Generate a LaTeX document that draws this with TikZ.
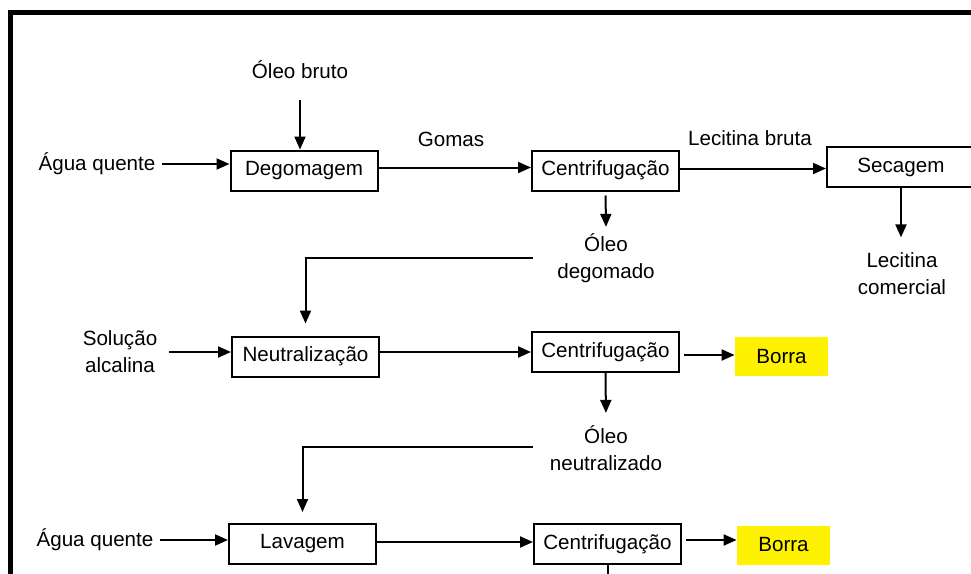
\documentclass[tikz,border=0pt]{standalone}
\usepackage{fontspec}
\setmainfont{Liberation Sans}
\usetikzlibrary{arrows.meta}

\begin{document}
\begin{tikzpicture}[x=0.5pt,y=-0.5pt]
    \tikzset{every node/.append style={font=\fontsize{10.3}{13.5}\selectfont},
      etapa/.style={draw=black, line width=1pt, minimum width=73.5pt, minimum height=20pt, inner sep=0pt},
      borra/.style={fill=yellow, minimum width=46.5pt, minimum height=19.5pt, inner sep=0pt},
      seta/.style={line width=1pt, -{Triangle[length=6.5pt,width=5.5pt]}},
      linha/.style={line width=1pt}}
    \useasboundingbox (0,0) rectangle (971,574);
    \draw [line width=2.4pt] (10.5,580) -- (10.5,12.5) -- (980,12.5);
    \node [etapa] (degom) at (304,170.5) {Degomagem};
    \node [etapa] (cent1) at (605.5,170.5) {Centrifugação};
    \node [etapa, minimum width=74pt] (secag) at (901,167) {Secagem};
    \node [etapa] (neutr) at (305.5,356.5) {Neutralização};
    \node [etapa] (cent2) at (605.5,352) {Centrifugação};
    \node [borra] (borra1) at (781.5,356.5) {Borra};
    \node [etapa] (lavag) at (302.5,544) {Lavagem};
    \node [etapa] (cent3) at (607.5,544) {Centrifugação};
    \node [borra] (borra2) at (783.5,545) {Borra};
    \node (bruto) at (300,70) {Óleo bruto};
    \node (agua1) at (97,164) {Água quente};
    \node (gomas) at (451,139) {Gomas};
    \node (lecbr) at (750,138) {Lecitina bruta};
    \node [align=center] (oleo1) at (606,258.5) {Óleo\\degomado};
    \node [align=center] (leccom) at (902,273.5) {Lecitina\\comercial};
    \node [align=center] (alcal) at (120,352) {Solução\\alcalina};
    \node [align=center] (oleo2) at (606,448.5) {Óleo\\neutralizado};
    \node (agua2) at (95,540) {Água quente};
    \coordinate (j1) at (533,258);
    \coordinate (j2) at (533,447);
    \coordinate (fim) at (608,590);
    \draw [seta, shorten <=7pt] (bruto.south) -- (bruto.south |- degom.north);
    \draw [seta] (agua1.east) -- (agua1.east -| degom.west);
    \draw [seta] ([yshift=1.5pt]degom.east) -- ([yshift=1.5pt]cent1.west);
    \draw [seta] ([yshift=1pt]cent1.east) -- ([yshift=1pt]cent1.east -| secag.west);
    \draw [seta, shorten <=2pt] (cent1.south) -- (oleo1.north);
    \draw [seta, shorten >=4pt] (secag.south) -- (secag.south |- leccom.north);
    \draw [seta, shorten >=6pt] (j1) -| (neutr.north);
    \draw [seta, shorten <=2.5pt] (alcal.east) -- (alcal.east -| neutr.west);
    \draw [seta] (neutr.east |- cent2.west) -- (cent2.west);
    \draw [seta, shorten <=2pt] ([yshift=-1.5pt]cent2.east) -- ([yshift=-1.5pt]cent2.east -| borra1.west);
    \draw [seta, shorten >=3pt] (cent2.south) -- (oleo2.north);
    \draw [seta, shorten >=5.5pt] (j2) -| (lavag.north);
    \draw [seta] (agua2.east) -- (agua2.east -| lavag.west);
    \draw [seta] ([yshift=1pt]lavag.east) -- ([yshift=1pt]cent3.west);
    \draw [seta, shorten <=2pt] ([yshift=2pt]cent3.east) -- ([yshift=2pt]cent3.east -| borra2.west);
    \draw [linha] (cent3.south) -- (cent3.south |- fim);
\end{tikzpicture}
\end{document}
